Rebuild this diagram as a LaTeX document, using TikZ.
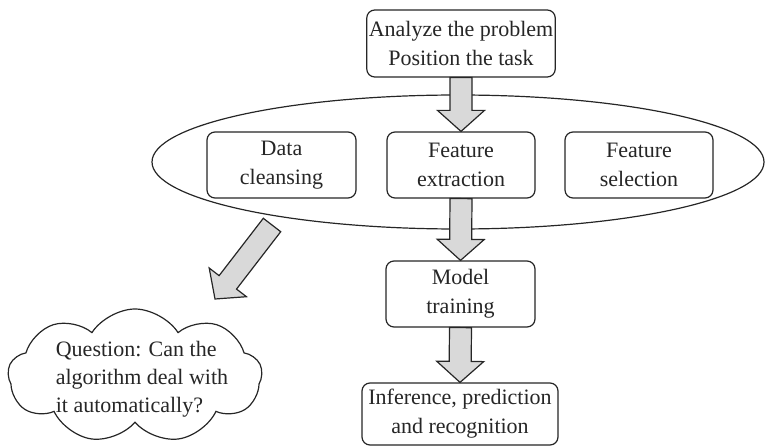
\documentclass[tikz,border=0pt]{standalone}
\usepackage{fontspec}
\setmainfont{Liberation Serif}
\usepackage{tikz}
\usetikzlibrary{calc,shapes.geometric,shapes.symbols}

% fat block arrow from #1 to #2
\newcommand{\fatarrow}[2]{%
  \path (#2) coordinate (fa-tip) ($(#2)!21pt!(#1)$) coordinate (fa-base);
  \draw[fatarr] ($(#1)!11pt!90:(#2)$) -- ($(fa-base)!11pt!90:(fa-tip)$)
    -- ($(fa-base)!23.5pt!90:(fa-tip)$) -- (fa-tip)
    -- ($(fa-base)!23.5pt!-90:(fa-tip)$) -- ($(fa-base)!11pt!-90:(fa-tip)$)
    -- ($(#1)!11pt!-90:(#2)$) -- cycle;}

\begin{document}
\begin{tikzpicture}[x=1pt, y=-1pt,
  stepbox/.style={draw=black!85, line width=1.2pt, rounded corners=8pt,
                  fill=white, align=center, inner sep=2pt,
                  text=black!85, font=\fontsize{22}{29}\selectfont},
  fatarr/.style={draw=black!85, line width=1.2pt, fill=black!15,
                 line join=miter},
  ring/.style={draw=black!85, line width=1.2pt, ellipse, inner sep=0pt},
]
  \useasboundingbox (0,0) rectangle (765,446);

  % preprocessing ring (behind everything)
  \node[ring, minimum width=612pt, minimum height=134pt] (prep) at (458,162) {};

  % main chain
  \node[stepbox, minimum width=178pt, minimum height=67pt] (task) at (461,43.5)
    {Analyze the problem\\Position the task};
  \node[stepbox, minimum width=149pt, minimum height=66pt] (clean) at (281.5,165)
    {Data\\cleansing};
  \node[stepbox, minimum width=148pt, minimum height=66pt] (extract) at (461,165)
    {Feature\\extraction};
  \node[stepbox, minimum width=148pt, minimum height=66pt] (select) at (639,165)
    {Feature\\selection};
  \node[stepbox, minimum width=149pt, minimum height=66pt] (train) at (460.5,294)
    {Model\\training};
  \node[stepbox, minimum width=196pt, minimum height=62pt] (infer) at (460,414)
    {Inference, prediction\\and recognition};

  % the question cloud, text laid on top
  \node[cloud, draw=black!85, line width=1.2pt, cloud puffs=9,
        cloud puff arc=115, cloud ignores aspect, minimum width=254pt,
        minimum height=134pt, inner sep=0pt] (askcloud) at (135,376) {};
  \node[align=left, text=black!85, inner sep=0pt,
        font=\fontsize{22}{28}\selectfont] (ask) at (142,379)
    {Question: Can the\\algorithm deal with\\it automatically?};

  % block arrows
  \fatarrow{task.south}{extract.north}
  \fatarrow{extract.south}{train.north}
  \fatarrow{train.south}{infer.north}
  \coordinate (asktail) at (272,225);
  \coordinate (asktip) at (215,299);
  \fatarrow{asktail}{asktip}
\end{tikzpicture}
\end{document}
